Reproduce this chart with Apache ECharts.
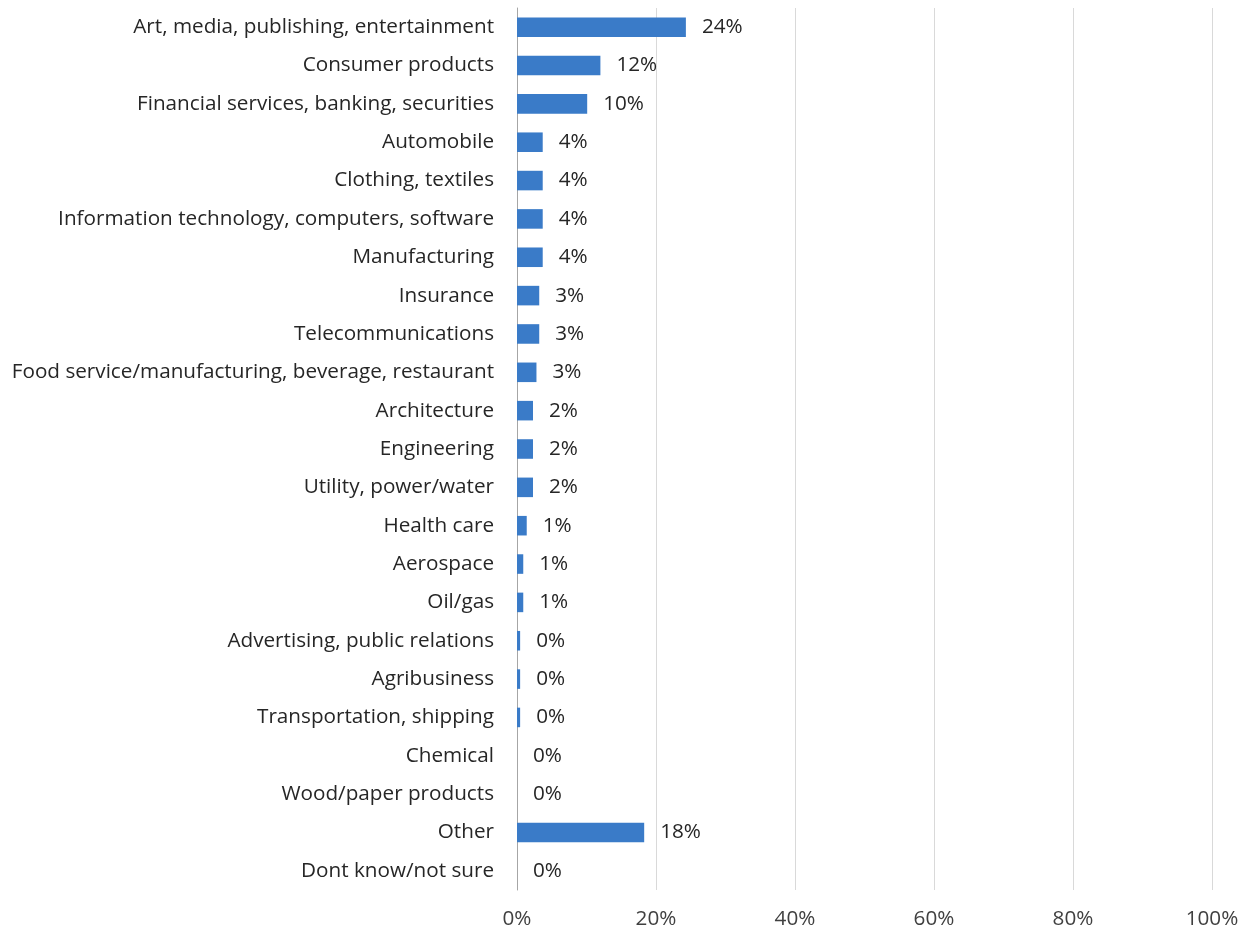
<!DOCTYPE html>
<html>
<head>
<meta charset="utf-8">
<script src="https://cdn.jsdelivr.net/npm/echarts@6/dist/echarts.min.js"></script>
<style>
  html, body { margin: 0; padding: 0; background: #fff; }
  #chart { width: 1250px; height: 934px; }
</style>
</head>
<body>
<div id="chart"></div>
<script>
// categories, top to bottom
const industries = [
	'Art, media, publishing, entertainment',
	'Consumer products',
	'Financial services, banking, securities',
	'Automobile',
	'Clothing, textiles',
	'Information technology, computers, software',
	'Manufacturing',
	'Insurance',
	'Telecommunications',
	'Food service/manufacturing, beverage, restaurant',
	'Architecture',
	'Engineering',
	'Utility, power/water',
	'Health care',
	'Aerospace',
	'Oil/gas',
	'Advertising, public relations',
	'Agribusiness',
	'Transportation, shipping',
	'Chemical',
	'Wood/paper products',
	'Other',
	'Dont know/not sure'
];
// share of respondents, %
const shares = [24.3, 12.0, 10.1, 3.7, 3.7, 3.7, 3.7, 3.2, 3.2, 2.8, 2.3, 2.3, 2.3, 1.4, 0.9, 0.9, 0.45, 0.45, 0.45, 0, 0, 18.3, 0];
const xTicks = [0, 20, 40, 60, 80, 100];

let chart = echarts.init(document.getElementById('chart'));
const font = '"Open Sans", Lato, sans-serif';
const fs = 20.7;

chart.setOption({
	animation: false,
	grid: {
		left: 517,
		right: 38,
		top: 8,
		bottom: 44
	},
	xAxis: {
		type: 'value',
		min: xTicks[0],
		max: xTicks[xTicks.length - 1],
		interval: 20,
		axisLine: { show: false },
		axisTick: { show: false },
		splitLine: {
			lineStyle: { color: '#d9d9d9', width: 1 }
		},
		axisLabel: {
			formatter: '{value}%',
			color: '#404040',
			fontFamily: font,
			fontSize: fs,
			margin: 19
		}
	},
	yAxis: {
		type: 'category',
		inverse: true,
		data: industries,
		axisLine: {
			show: true,
			lineStyle: { color: '#a6a6a6', width: 1 }
		},
		axisTick: { show: false },
		axisLabel: {
			color: '#262626',
			fontFamily: font,
			fontSize: fs,
			margin: 23
		}
	},
	series: [{
		type: 'bar',
		data: shares,
		barWidth: '51%',
		itemStyle: {
			color: '#3a7bc8'
		},
		label: {
			show: true,
			position: 'right',
			distance: 16,
			color: '#262626',
			fontFamily: font,
			fontSize: fs,
			formatter: function(p) {
				return Math.round(p.value) + '%';
			}
		}
	}]
});
</script>
</body>
</html>
